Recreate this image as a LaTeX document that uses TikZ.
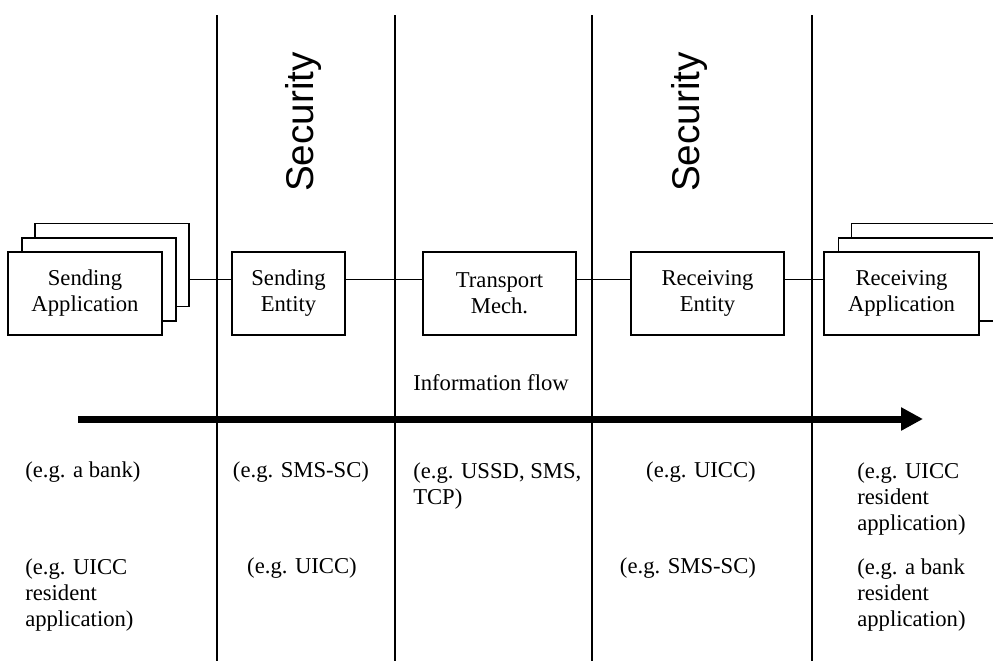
\documentclass[tikz,border=0pt]{standalone}
\usepackage{fontspec}
\setmainfont{Liberation Serif}
\newfontfamily\secfont{Liberation Sans}
\usetikzlibrary{arrows.meta}

\begin{document}
\begin{tikzpicture}[x=0.75pt, y=-0.75pt,
		entity/.style={draw, line width=1.1pt, fill=white, minimum height=62.25pt,
			inner sep=0pt, align=center, font=\fontsize{17}{19.5}\selectfont},
		note/.style={inner sep=0pt, align=left, font=\fontsize{17}{19.5}\selectfont},
		seclabel/.style={rotate=90, inner sep=0pt, font=\secfont\fontsize{29}{34}\selectfont},
		sep/.style={line width=1.1pt},
		link/.style={line width=1.2pt},
		flow/.style={-{Triangle[length=16.5pt, width=16.5pt]}, line width=5.25pt}
	]
		\useasboundingbox (0,0) rectangle (993,661);
		\clip (0,0) rectangle (993,661);

		% domain separators
		\foreach \x in {217,395,592,812}
			\draw[sep] (\x,15) -- (\x,661);

		\node[seclabel] (sec1) at (303,122) {Security};
		\node[seclabel] (sec2) at (689,122) {Security};

		% entities
		\node[entity, minimum width=115.5pt] (sendapp3) at (112,265) {};
		\node[entity, minimum width=115.5pt] (sendapp2) at (99,279.5) {};
		\node[entity, minimum width=115.5pt] (sendapp) at (85,293.5) {Sending\\Application};
		\node[entity, minimum width=84.75pt] (sendent) at (288.5,293.5) {Sending\\Entity};
		\node[entity, minimum width=114.75pt] (transport) at (499.5,293.5) {Transport\\Mech.};
		\node[entity, minimum width=114.75pt] (recvent) at (707.5,293.5) {Receiving\\Entity};
		\node[entity, minimum width=116.25pt] (recvapp3) at (929,265) {};
		\node[entity, minimum width=116.25pt] (recvapp2) at (916,279.5) {};
		\node[entity, minimum width=116.25pt] (recvapp) at (901.5,293.5) {Receiving\\Application};

		\coordinate (link) at (0,279.5);
		\foreach \a/\b in {sendapp3/sendent,sendent/transport,transport/recvent,recvent/recvapp}
			\draw[link] (\a.east |- link) -- (\b.west |- link);

		% information flow
		\node[note, anchor=base west] (info) at (413,390) {Information flow};
		\coordinate (flowstart) at (78,419);
		\coordinate (flowend) at (923,419);
		\draw[flow] (flowstart) -- (flowend);

		% examples
		\node[note, anchor=base west] (ex1a) at (25,477) {(e.g. a bank)};
		\node[note, anchor=north west] (ex1b) at (25,558) {(e.g. UICC\\resident\\application)};
		\node[note, anchor=base] (ex2a) at (301,477) {(e.g. SMS-SC)};
		\node[note, anchor=base] (ex2b) at (302,573) {(e.g. UICC)};
		\node[note, anchor=north west] (ex3a) at (413,462) {(e.g. USSD, SMS,\\TCP)};
		\node[note, anchor=base] (ex4a) at (701,477) {(e.g. UICC)};
		\node[note, anchor=base] (ex4b) at (688,573) {(e.g. SMS-SC)};
		\node[note, anchor=north west] (ex5a) at (857,462) {(e.g. UICC\\resident\\application)};
		\node[note, anchor=north west] (ex5b) at (857,558) {(e.g. a bank\\resident\\application)};
	\end{tikzpicture}
\end{document}
